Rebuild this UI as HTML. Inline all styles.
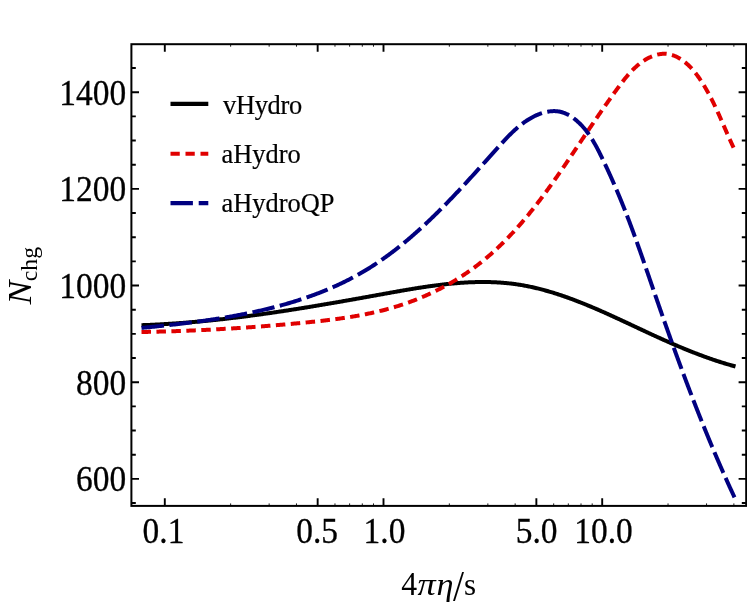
<!DOCTYPE html><html><head><meta charset="utf-8"><style>html,body{margin:0;padding:0;background:#fff}svg{display:block;will-change:transform}text{font-family:"Liberation Serif",serif;fill:#000}.tk{stroke:#000;stroke-width:0.3px}.lg{stroke:#000;stroke-width:0.2px}</style></head><body>
<svg width="747" height="603" viewBox="0 0 747 603">
<rect width="747" height="603" fill="#fff"/>
<g fill="none" stroke-linejoin="round">
<path d="M141.49,325.19 L142.50,325.16 L143.51,325.12 L144.52,325.08 L145.53,325.05 L146.54,325.01 L147.55,324.97 L148.56,324.92 L149.57,324.88 L150.58,324.84 L151.58,324.79 L152.59,324.75 L153.60,324.70 L154.60,324.65 L155.61,324.60 L156.62,324.55 L157.62,324.50 L158.63,324.45 L159.63,324.40 L160.64,324.34 L161.64,324.29 L162.65,324.23 L163.65,324.17 L164.65,324.11 L165.66,324.06 L166.66,324.00 L167.66,323.93 L168.67,323.87 L169.67,323.81 L170.67,323.74 L171.67,323.68 L172.67,323.61 L173.68,323.55 L174.68,323.48 L175.68,323.41 L176.68,323.34 L177.68,323.27 L178.68,323.19 L179.68,323.12 L180.68,323.05 L181.68,322.97 L182.68,322.90 L183.68,322.82 L184.67,322.74 L185.67,322.66 L186.67,322.58 L187.67,322.50 L188.67,322.42 L189.66,322.34 L190.66,322.26 L191.66,322.17 L192.65,322.09 L193.65,322.00 L194.65,321.92 L195.64,321.83 L196.64,321.74 L197.63,321.65 L198.63,321.56 L199.63,321.47 L200.62,321.38 L201.62,321.28 L202.61,321.19 L203.60,321.10 L204.60,321.00 L205.59,320.90 L206.59,320.81 L207.58,320.71 L208.57,320.61 L209.57,320.51 L210.56,320.41 L211.55,320.31 L212.55,320.21 L213.54,320.10 L214.53,320.00 L215.52,319.90 L216.51,319.79 L217.51,319.69 L218.50,319.58 L219.49,319.47 L220.48,319.36 L221.47,319.25 L222.46,319.14 L223.45,319.03 L224.44,318.92 L225.43,318.81 L226.43,318.70 L227.42,318.58 L228.41,318.47 L229.40,318.35 L230.38,318.24 L231.37,318.12 L232.36,318.00 L233.35,317.88 L234.34,317.77 L235.33,317.65 L236.32,317.53 L237.31,317.41 L238.30,317.28 L239.29,317.16 L240.27,317.04 L241.26,316.91 L242.25,316.79 L243.24,316.67 L244.23,316.54 L245.21,316.41 L246.20,316.29 L247.19,316.16 L248.18,316.03 L249.16,315.90 L250.15,315.77 L251.14,315.64 L252.13,315.51 L253.11,315.38 L254.10,315.24 L255.09,315.11 L256.07,314.98 L257.06,314.84 L258.05,314.71 L259.03,314.57 L260.02,314.44 L261.00,314.30 L261.99,314.16 L262.98,314.03 L263.96,313.89 L264.95,313.75 L265.93,313.61 L266.92,313.47 L267.90,313.33 L268.89,313.19 L269.88,313.04 L270.86,312.90 L271.85,312.76 L272.83,312.61 L273.82,312.47 L274.80,312.33 L275.79,312.18 L276.77,312.03 L277.76,311.89 L278.74,311.74 L279.73,311.59 L280.71,311.45 L281.70,311.30 L282.68,311.15 L283.67,311.00 L284.65,310.85 L285.63,310.70 L286.62,310.55 L287.60,310.40 L288.59,310.24 L289.57,310.09 L290.56,309.94 L291.54,309.79 L292.53,309.63 L293.51,309.48 L294.49,309.32 L295.48,309.17 L296.46,309.01 L297.45,308.85 L298.43,308.70 L299.42,308.54 L300.40,308.38 L301.38,308.23 L302.37,308.07 L303.35,307.91 L304.34,307.75 L305.32,307.59 L306.31,307.43 L307.29,307.27 L308.27,307.11 L309.26,306.95 L310.24,306.78 L311.23,306.62 L312.21,306.46 L313.20,306.30 L314.18,306.13 L315.16,305.97 L316.15,305.81 L317.13,305.64 L318.12,305.48 L319.10,305.31 L320.09,305.15 L321.07,304.98 L322.06,304.81 L323.04,304.65 L324.02,304.48 L325.01,304.31 L325.99,304.15 L326.98,303.98 L327.96,303.81 L328.95,303.64 L329.93,303.47 L330.92,303.30 L331.90,303.13 L332.89,302.96 L333.87,302.79 L334.86,302.62 L335.84,302.45 L336.83,302.28 L337.82,302.11 L338.80,301.94 L339.79,301.77 L340.77,301.60 L341.76,301.42 L342.74,301.25 L343.73,301.08 L344.72,300.90 L345.70,300.73 L346.69,300.56 L347.67,300.38 L348.66,300.21 L349.65,300.04 L350.63,299.86 L351.62,299.69 L352.61,299.51 L353.59,299.34 L354.58,299.16 L355.57,298.99 L356.55,298.81 L357.54,298.63 L358.53,298.46 L359.52,298.28 L360.50,298.11 L361.49,297.93 L362.48,297.75 L363.47,297.57 L364.45,297.40 L365.44,297.22 L366.43,297.04 L367.42,296.86 L368.41,296.69 L369.40,296.51 L370.38,296.33 L371.37,296.15 L372.36,295.97 L373.35,295.80 L374.34,295.62 L375.33,295.44 L376.32,295.26 L377.31,295.08 L378.30,294.90 L379.29,294.72 L380.28,294.54 L381.27,294.36 L382.26,294.18 L383.25,294.00 L384.24,293.82 L385.23,293.64 L386.22,293.47 L387.21,293.29 L388.21,293.11 L389.20,292.93 L390.19,292.75 L391.18,292.57 L392.17,292.39 L393.16,292.22 L394.16,292.04 L395.15,291.86 L396.14,291.68 L397.13,291.51 L398.13,291.33 L399.12,291.16 L400.11,290.98 L401.10,290.81 L402.10,290.64 L403.09,290.46 L404.08,290.29 L405.08,290.12 L406.07,289.95 L407.06,289.78 L408.05,289.61 L409.05,289.45 L410.04,289.28 L411.03,289.11 L412.03,288.95 L413.02,288.78 L414.02,288.62 L415.01,288.46 L416.00,288.30 L417.00,288.14 L417.99,287.98 L418.98,287.83 L419.98,287.67 L420.97,287.52 L421.97,287.36 L422.96,287.21 L423.95,287.06 L424.95,286.91 L425.94,286.77 L426.93,286.62 L427.93,286.48 L428.92,286.34 L429.92,286.20 L430.91,286.06 L431.90,285.92 L432.90,285.78 L433.89,285.65 L434.89,285.52 L435.88,285.39 L436.87,285.26 L437.87,285.13 L438.86,285.01 L439.86,284.89 L440.85,284.77 L441.84,284.65 L442.84,284.53 L443.83,284.42 L444.82,284.31 L445.82,284.20 L446.81,284.09 L447.80,283.98 L448.80,283.88 L449.79,283.78 L450.78,283.68 L451.78,283.59 L452.77,283.49 L453.76,283.40 L454.75,283.32 L455.75,283.23 L456.74,283.15 L457.73,283.07 L458.73,282.99 L459.72,282.91 L460.71,282.84 L461.70,282.77 L462.69,282.70 L463.69,282.64 L464.68,282.58 L465.67,282.52 L466.66,282.47 L467.65,282.41 L468.64,282.36 L469.64,282.32 L470.63,282.27 L471.62,282.23 L472.61,282.20 L473.60,282.16 L474.59,282.13 L475.58,282.11 L476.57,282.08 L477.56,282.06 L478.55,282.04 L479.54,282.03 L480.53,282.02 L481.52,282.01 L482.51,282.01 L483.50,282.01 L484.49,282.01 L485.48,282.02 L486.46,282.03 L487.45,282.05 L488.44,282.06 L489.43,282.09 L490.42,282.11 L491.40,282.14 L492.39,282.18 L493.38,282.21 L494.37,282.25 L495.35,282.30 L496.34,282.35 L497.32,282.40 L498.31,282.46 L499.30,282.52 L500.28,282.59 L501.27,282.66 L502.25,282.73 L503.24,282.81 L504.22,282.89 L505.21,282.98 L506.19,283.07 L507.18,283.17 L508.16,283.27 L509.14,283.37 L510.13,283.48 L511.11,283.59 L512.09,283.71 L513.07,283.83 L514.06,283.96 L515.04,284.09 L516.02,284.23 L517.00,284.37 L517.98,284.52 L518.96,284.67 L519.94,284.82 L520.92,284.98 L521.90,285.15 L522.88,285.32 L523.86,285.50 L524.84,285.68 L525.82,285.86 L526.80,286.05 L527.78,286.24 L528.75,286.44 L529.73,286.64 L530.71,286.85 L531.68,287.06 L532.66,287.28 L533.63,287.50 L534.61,287.72 L535.58,287.95 L536.56,288.18 L537.53,288.42 L538.50,288.66 L539.48,288.90 L540.45,289.15 L541.42,289.40 L542.39,289.66 L543.36,289.92 L544.33,290.18 L545.30,290.45 L546.27,290.72 L547.24,290.99 L548.21,291.27 L549.17,291.55 L550.14,291.84 L551.10,292.13 L552.07,292.42 L553.03,292.71 L554.00,293.01 L554.96,293.31 L555.92,293.62 L556.89,293.92 L557.85,294.24 L558.81,294.55 L559.77,294.87 L560.72,295.19 L561.68,295.51 L562.64,295.83 L563.60,296.16 L564.55,296.49 L565.51,296.83 L566.46,297.17 L567.42,297.50 L568.37,297.85 L569.32,298.19 L570.27,298.54 L571.22,298.89 L572.17,299.24 L573.12,299.59 L574.06,299.95 L575.01,300.31 L575.96,300.67 L576.90,301.03 L577.85,301.40 L578.79,301.76 L579.73,302.13 L580.67,302.50 L581.61,302.88 L582.55,303.25 L583.49,303.63 L584.42,304.01 L585.36,304.39 L586.29,304.77 L587.23,305.15 L588.16,305.54 L589.09,305.92 L590.02,306.31 L590.95,306.70 L591.88,307.09 L592.81,307.48 L593.73,307.88 L594.66,308.27 L595.58,308.67 L596.51,309.07 L597.43,309.46 L598.35,309.86 L599.27,310.26 L600.19,310.67 L601.11,311.07 L602.02,311.47 L602.94,311.88 L603.85,312.28 L604.77,312.69 L605.68,313.10 L606.59,313.51 L607.51,313.92 L608.42,314.33 L609.33,314.74 L610.24,315.15 L611.15,315.56 L612.05,315.98 L612.96,316.39 L613.87,316.81 L614.78,317.22 L615.68,317.64 L616.59,318.06 L617.49,318.47 L618.40,318.89 L619.30,319.31 L620.20,319.73 L621.11,320.15 L622.01,320.57 L622.91,320.99 L623.82,321.41 L624.72,321.83 L625.62,322.25 L626.52,322.67 L627.42,323.09 L628.32,323.51 L629.22,323.93 L630.12,324.36 L631.02,324.78 L631.92,325.20 L632.82,325.62 L633.72,326.05 L634.62,326.47 L635.52,326.89 L636.42,327.31 L637.32,327.74 L638.22,328.16 L639.12,328.58 L640.02,329.00 L640.92,329.42 L641.82,329.85 L642.72,330.27 L643.63,330.69 L644.53,331.11 L645.43,331.53 L646.33,331.95 L647.23,332.37 L648.13,332.79 L649.04,333.21 L649.94,333.63 L650.84,334.04 L651.75,334.46 L652.65,334.88 L653.56,335.30 L654.46,335.71 L655.37,336.13 L656.27,336.54 L657.18,336.95 L658.09,337.37 L659.00,337.78 L659.90,338.19 L660.81,338.60 L661.72,339.01 L662.63,339.42 L663.54,339.83 L664.46,340.24 L665.37,340.64 L666.28,341.05 L667.19,341.45 L668.11,341.86 L669.02,342.26 L669.94,342.66 L670.85,343.06 L671.77,343.46 L672.68,343.86 L673.60,344.25 L674.52,344.65 L675.44,345.04 L676.36,345.44 L677.28,345.83 L678.20,346.22 L679.12,346.61 L680.04,347.00 L680.96,347.38 L681.89,347.77 L682.81,348.15 L683.73,348.54 L684.66,348.92 L685.59,349.30 L686.51,349.67 L687.44,350.05 L688.37,350.42 L689.30,350.80 L690.22,351.17 L691.15,351.54 L692.09,351.91 L693.02,352.27 L693.95,352.64 L694.88,353.00 L695.81,353.36 L696.75,353.72 L697.68,354.08 L698.62,354.43 L699.56,354.79 L700.49,355.14 L701.43,355.49 L702.37,355.84 L703.31,356.18 L704.25,356.53 L705.19,356.87 L706.13,357.21 L707.07,357.54 L708.02,357.88 L708.96,358.21 L709.90,358.54 L710.85,358.87 L711.80,359.20 L712.74,359.52 L713.69,359.85 L714.64,360.16 L715.59,360.48 L716.54,360.80 L717.49,361.11 L718.44,361.42 L719.39,361.73 L720.35,362.03 L721.30,362.33 L722.26,362.63 L723.21,362.93 L724.17,363.23 L725.13,363.52 L726.09,363.81 L727.05,364.10 L728.01,364.38 L728.97,364.66 L729.93,364.94 L730.89,365.22 L731.85,365.49 L732.82,365.76 L733.78,366.03 L734.75,366.29 L735.50,366.50" stroke="#000" stroke-width="4"/>
<path d="M141.50,332.00 L142.50,331.98 L143.51,331.96 L144.51,331.94 L145.52,331.92 L146.52,331.90 L147.53,331.88 L148.53,331.86 L149.54,331.84 L150.54,331.82 L151.54,331.80 L152.55,331.78 L153.55,331.75 L154.55,331.73 L155.56,331.71 L156.56,331.68 L157.56,331.66 L158.56,331.63 L159.57,331.61 L160.57,331.58 L161.57,331.55 L162.57,331.53 L163.57,331.50 L164.57,331.47 L165.58,331.44 L166.58,331.41 L167.58,331.38 L168.58,331.35 L169.58,331.32 L170.58,331.29 L171.58,331.26 L172.58,331.23 L173.58,331.19 L174.58,331.16 L175.58,331.13 L176.58,331.09 L177.58,331.06 L178.58,331.02 L179.58,330.99 L180.58,330.95 L181.58,330.91 L182.58,330.88 L183.58,330.84 L184.58,330.80 L185.58,330.76 L186.58,330.72 L187.57,330.68 L188.57,330.64 L189.57,330.60 L190.57,330.56 L191.57,330.52 L192.57,330.48 L193.56,330.44 L194.56,330.39 L195.56,330.35 L196.56,330.31 L197.56,330.26 L198.55,330.22 L199.55,330.17 L200.55,330.12 L201.55,330.08 L202.54,330.03 L203.54,329.98 L204.54,329.94 L205.53,329.89 L206.53,329.84 L207.53,329.79 L208.52,329.74 L209.52,329.69 L210.52,329.64 L211.51,329.59 L212.51,329.53 L213.51,329.48 L214.50,329.43 L215.50,329.38 L216.50,329.32 L217.49,329.27 L218.49,329.21 L219.49,329.16 L220.48,329.10 L221.48,329.04 L222.47,328.99 L223.47,328.93 L224.47,328.87 L225.46,328.81 L226.46,328.76 L227.45,328.70 L228.45,328.64 L229.44,328.58 L230.44,328.52 L231.44,328.45 L232.43,328.39 L233.43,328.33 L234.42,328.27 L235.42,328.20 L236.41,328.14 L237.41,328.08 L238.41,328.01 L239.40,327.95 L240.40,327.88 L241.39,327.81 L242.39,327.75 L243.38,327.68 L244.38,327.61 L245.37,327.55 L246.37,327.48 L247.36,327.41 L248.36,327.34 L249.36,327.27 L250.35,327.20 L251.35,327.13 L252.34,327.05 L253.34,326.98 L254.33,326.91 L255.33,326.84 L256.32,326.76 L257.32,326.69 L258.31,326.62 L259.31,326.54 L260.31,326.47 L261.30,326.39 L262.30,326.31 L263.29,326.24 L264.29,326.16 L265.28,326.08 L266.28,326.00 L267.27,325.92 L268.27,325.84 L269.27,325.76 L270.26,325.68 L271.26,325.60 L272.25,325.52 L273.25,325.44 L274.25,325.36 L275.24,325.28 L276.24,325.19 L277.23,325.11 L278.23,325.02 L279.23,324.94 L280.22,324.85 L281.22,324.77 L282.22,324.68 L283.21,324.60 L284.21,324.51 L285.20,324.42 L286.20,324.33 L287.20,324.24 L288.19,324.16 L289.19,324.07 L290.19,323.98 L291.19,323.89 L292.18,323.79 L293.18,323.70 L294.18,323.61 L295.17,323.52 L296.17,323.43 L297.17,323.33 L298.17,323.24 L299.16,323.14 L300.16,323.05 L301.16,322.95 L302.16,322.86 L303.16,322.76 L304.15,322.66 L305.15,322.57 L306.15,322.47 L307.15,322.37 L308.15,322.27 L309.14,322.17 L310.14,322.07 L311.14,321.96 L312.14,321.86 L313.14,321.76 L314.13,321.65 L315.13,321.55 L316.13,321.44 L317.13,321.33 L318.12,321.23 L319.12,321.12 L320.12,321.00 L321.12,320.89 L322.11,320.78 L323.11,320.67 L324.11,320.55 L325.10,320.43 L326.10,320.32 L327.10,320.20 L328.09,320.08 L329.09,319.95 L330.09,319.83 L331.08,319.71 L332.08,319.58 L333.07,319.45 L334.07,319.32 L335.06,319.19 L336.05,319.06 L337.05,318.92 L338.04,318.79 L339.03,318.65 L340.03,318.51 L341.02,318.37 L342.01,318.23 L343.00,318.08 L344.00,317.94 L344.99,317.79 L345.98,317.64 L346.97,317.49 L347.96,317.33 L348.95,317.18 L349.94,317.02 L350.92,316.86 L351.91,316.70 L352.90,316.53 L353.89,316.36 L354.87,316.20 L355.86,316.02 L356.85,315.85 L357.83,315.68 L358.82,315.50 L359.80,315.32 L360.78,315.13 L361.77,314.95 L362.75,314.76 L363.73,314.57 L364.71,314.38 L365.69,314.18 L366.67,313.99 L367.65,313.79 L368.63,313.58 L369.61,313.38 L370.59,313.17 L371.56,312.96 L372.54,312.75 L373.51,312.53 L374.49,312.31 L375.46,312.09 L376.44,311.86 L377.41,311.63 L378.38,311.40 L379.35,311.17 L380.32,310.93 L381.29,310.69 L382.26,310.45 L383.23,310.20 L384.20,309.95 L385.16,309.70 L386.13,309.45 L387.09,309.19 L388.06,308.93 L389.02,308.66 L389.98,308.39 L390.94,308.12 L391.90,307.84 L392.86,307.57 L393.82,307.28 L394.78,307.00 L395.74,306.71 L396.69,306.41 L397.65,306.12 L398.60,305.82 L399.55,305.51 L400.51,305.21 L401.46,304.90 L402.41,304.58 L403.35,304.26 L404.30,303.94 L405.25,303.62 L406.19,303.29 L407.14,302.96 L408.08,302.62 L409.02,302.28 L409.96,301.94 L410.90,301.59 L411.84,301.24 L412.78,300.89 L413.72,300.53 L414.65,300.17 L415.58,299.80 L416.52,299.44 L417.45,299.06 L418.38,298.69 L419.30,298.31 L420.23,297.93 L421.15,297.54 L422.08,297.16 L423.00,296.76 L423.92,296.37 L424.84,295.97 L425.76,295.57 L426.67,295.16 L427.59,294.75 L428.50,294.34 L429.41,293.92 L430.32,293.50 L431.23,293.08 L432.14,292.65 L433.04,292.22 L433.95,291.79 L434.85,291.35 L435.75,290.91 L436.64,290.46 L437.54,290.02 L438.43,289.57 L439.33,289.11 L440.22,288.65 L441.11,288.19 L441.99,287.73 L442.88,287.26 L443.76,286.79 L444.64,286.31 L445.52,285.84 L446.40,285.36 L447.28,284.87 L448.15,284.38 L449.02,283.89 L449.89,283.40 L450.76,282.90 L451.62,282.40 L452.49,281.89 L453.35,281.39 L454.21,280.87 L455.07,280.36 L455.92,279.84 L456.77,279.32 L457.62,278.80 L458.47,278.27 L459.32,277.74 L460.16,277.20 L461.00,276.67 L461.84,276.13 L462.68,275.58 L463.51,275.03 L464.34,274.48 L465.17,273.93 L466.00,273.37 L466.83,272.81 L467.65,272.25 L468.47,271.68 L469.29,271.11 L470.10,270.54 L470.91,269.96 L471.72,269.38 L472.53,268.80 L473.34,268.21 L474.14,267.62 L474.94,267.03 L475.74,266.44 L476.53,265.84 L477.32,265.24 L478.11,264.63 L478.90,264.02 L479.68,263.41 L480.46,262.80 L481.24,262.18 L482.02,261.56 L482.79,260.93 L483.56,260.31 L484.33,259.68 L485.09,259.05 L485.86,258.41 L486.62,257.77 L487.38,257.13 L488.13,256.49 L488.88,255.84 L489.64,255.19 L490.38,254.54 L491.13,253.88 L491.87,253.22 L492.61,252.56 L493.35,251.90 L494.09,251.23 L494.82,250.56 L495.55,249.89 L496.28,249.21 L497.01,248.54 L497.73,247.86 L498.45,247.17 L499.17,246.49 L499.89,245.80 L500.61,245.11 L501.32,244.42 L502.03,243.72 L502.74,243.03 L503.45,242.33 L504.15,241.62 L504.85,240.92 L505.55,240.21 L506.25,239.50 L506.95,238.79 L507.64,238.08 L508.33,237.36 L509.02,236.64 L509.71,235.92 L510.40,235.20 L511.08,234.47 L511.76,233.74 L512.44,233.01 L513.12,232.28 L513.79,231.55 L514.47,230.81 L515.14,230.08 L515.81,229.34 L516.48,228.59 L517.14,227.85 L517.81,227.10 L518.47,226.36 L519.13,225.61 L519.79,224.85 L520.45,224.10 L521.10,223.35 L521.76,222.59 L522.41,221.83 L523.06,221.07 L523.71,220.31 L524.35,219.54 L525.00,218.78 L525.64,218.01 L526.28,217.24 L526.92,216.47 L527.56,215.70 L528.20,214.92 L528.83,214.15 L529.47,213.37 L530.10,212.59 L530.73,211.81 L531.36,211.03 L531.99,210.24 L532.61,209.46 L533.24,208.67 L533.86,207.88 L534.48,207.10 L535.10,206.31 L535.72,205.51 L536.34,204.72 L536.95,203.93 L537.57,203.13 L538.18,202.33 L538.79,201.54 L539.40,200.74 L540.01,199.94 L540.62,199.13 L541.23,198.33 L541.83,197.53 L542.43,196.72 L543.04,195.91 L543.64,195.11 L544.24,194.30 L544.84,193.49 L545.44,192.68 L546.03,191.87 L546.63,191.06 L547.22,190.24 L547.82,189.43 L548.41,188.61 L549.00,187.80 L549.59,186.98 L550.18,186.16 L550.77,185.35 L551.35,184.53 L551.94,183.71 L552.52,182.89 L553.11,182.07 L553.69,181.24 L554.27,180.42 L554.85,179.60 L555.43,178.77 L556.01,177.95 L556.59,177.12 L557.17,176.30 L557.75,175.47 L558.32,174.65 L558.90,173.82 L559.47,172.99 L560.04,172.16 L560.62,171.34 L561.19,170.51 L561.76,169.68 L562.33,168.85 L562.90,168.02 L563.47,167.19 L564.04,166.36 L564.60,165.53 L565.17,164.70 L565.74,163.87 L566.30,163.03 L566.87,162.20 L567.43,161.37 L567.99,160.54 L568.56,159.71 L569.12,158.88 L569.68,158.04 L570.24,157.21 L570.80,156.38 L571.37,155.55 L571.93,154.72 L572.48,153.88 L573.04,153.05 L573.60,152.22 L574.16,151.39 L574.72,150.56 L575.28,149.73 L575.83,148.89 L576.39,148.06 L576.95,147.23 L577.50,146.40 L578.06,145.57 L578.61,144.74 L579.17,143.91 L579.72,143.08 L580.28,142.25 L580.83,141.43 L581.39,140.60 L581.94,139.77 L582.50,138.94 L583.05,138.12 L583.60,137.29 L584.16,136.46 L584.71,135.64 L585.26,134.81 L585.82,133.99 L586.37,133.17 L586.92,132.34 L587.48,131.52 L588.03,130.70 L588.58,129.88 L589.13,129.06 L589.69,128.24 L590.24,127.42 L590.79,126.60 L591.35,125.78 L591.90,124.97 L592.45,124.15 L593.01,123.34 L593.56,122.52 L594.11,121.71 L594.67,120.89 L595.22,120.08 L595.78,119.27 L596.33,118.46 L596.89,117.64 L597.45,116.83 L598.00,116.02 L598.56,115.21 L599.12,114.40 L599.68,113.59 L600.24,112.78 L600.80,111.97 L601.36,111.16 L601.92,110.35 L602.49,109.54 L603.05,108.73 L603.62,107.92 L604.18,107.11 L604.75,106.30 L605.32,105.49 L605.89,104.67 L606.46,103.86 L607.03,103.05 L607.60,102.24 L608.18,101.43 L608.75,100.61 L609.33,99.80 L609.91,98.99 L610.49,98.17 L611.07,97.36 L611.66,96.54 L612.24,95.73 L612.83,94.91 L613.42,94.09 L614.01,93.27 L614.60,92.45 L615.19,91.63 L615.79,90.81 L616.38,89.99 L616.98,89.17 L617.58,88.34 L618.19,87.52 L618.79,86.70 L619.40,85.87 L620.02,85.05 L620.63,84.23 L621.25,83.41 L621.87,82.60 L622.50,81.78 L623.13,80.97 L623.76,80.16 L624.40,79.36 L625.04,78.56 L625.69,77.77 L626.34,76.98 L627.00,76.19 L627.66,75.42 L628.33,74.64 L629.00,73.88 L629.68,73.12 L630.37,72.37 L631.06,71.63 L631.76,70.89 L632.46,70.17 L633.18,69.45 L633.90,68.74 L634.62,68.04 L635.36,67.36 L636.10,66.68 L636.85,66.02 L637.61,65.36 L638.37,64.72 L639.15,64.09 L639.93,63.47 L640.72,62.87 L641.53,62.28 L642.34,61.70 L643.16,61.14 L643.99,60.60 L644.83,60.06 L645.68,59.55 L646.54,59.05 L647.41,58.56 L648.29,58.10 L649.18,57.65 L650.09,57.22 L651.00,56.80 L651.92,56.41 L652.85,56.04 L653.78,55.70 L654.72,55.38 L655.67,55.08 L656.62,54.81 L657.58,54.57 L658.54,54.36 L659.51,54.17 L660.47,54.02 L661.44,53.90 L662.41,53.81 L663.38,53.76 L664.35,53.75 L665.32,53.77 L666.28,53.82 L667.25,53.92 L668.21,54.06 L669.16,54.23 L670.11,54.44 L671.06,54.69 L672.00,54.97 L672.94,55.28 L673.87,55.62 L674.79,55.99 L675.70,56.39 L676.60,56.81 L677.49,57.26 L678.37,57.73 L679.24,58.23 L680.10,58.75 L680.95,59.28 L681.79,59.83 L682.61,60.40 L683.42,60.99 L684.21,61.59 L685.00,62.21 L685.77,62.84 L686.53,63.48 L687.28,64.15 L688.01,64.82 L688.74,65.51 L689.45,66.21 L690.16,66.92 L690.85,67.64 L691.54,68.38 L692.21,69.12 L692.87,69.88 L693.53,70.64 L694.18,71.41 L694.81,72.20 L695.44,72.99 L696.06,73.78 L696.67,74.59 L697.27,75.40 L697.87,76.22 L698.46,77.04 L699.04,77.87 L699.61,78.70 L700.18,79.54 L700.74,80.38 L701.29,81.22 L701.84,82.07 L702.38,82.91 L702.92,83.76 L703.45,84.62 L703.97,85.47 L704.49,86.33 L705.00,87.19 L705.51,88.05 L706.01,88.91 L706.51,89.78 L707.00,90.64 L707.49,91.51 L707.97,92.38 L708.45,93.26 L708.93,94.13 L709.40,95.01 L709.86,95.88 L710.33,96.76 L710.78,97.65 L711.24,98.53 L711.69,99.41 L712.14,100.30 L712.58,101.19 L713.02,102.08 L713.46,102.97 L713.89,103.86 L714.32,104.75 L714.75,105.65 L715.18,106.54 L715.60,107.44 L716.02,108.34 L716.44,109.24 L716.86,110.14 L717.27,111.04 L717.68,111.94 L718.09,112.85 L718.50,113.75 L718.91,114.66 L719.31,115.56 L719.72,116.47 L720.12,117.38 L720.52,118.29 L720.92,119.20 L721.32,120.11 L721.72,121.02 L722.12,121.93 L722.52,122.85 L722.92,123.76 L723.32,124.67 L723.72,125.59 L724.11,126.50 L724.51,127.42 L724.91,128.33 L725.31,129.25 L725.71,130.16 L726.11,131.08 L726.51,131.99 L726.91,132.91 L727.31,133.83 L727.72,134.74 L728.12,135.66 L728.53,136.58 L728.94,137.49 L729.34,138.41 L729.76,139.33 L730.17,140.24 L730.58,141.16 L731.00,142.07 L731.42,142.99 L731.84,143.91 L732.27,144.82 L732.69,145.74 L733.12,146.65 L733.56,147.56 L733.81,148.10" stroke="#e00000" stroke-width="4" stroke-dasharray="9.5 5.45"/>
<path d="M141.51,327.91 L142.48,327.81 L143.46,327.72 L144.43,327.62 L145.40,327.53 L146.38,327.43 L147.35,327.33 L148.33,327.24 L149.31,327.14 L150.29,327.04 L151.26,326.94 L152.24,326.84 L153.22,326.74 L154.20,326.64 L155.18,326.54 L156.17,326.44 L157.15,326.34 L158.13,326.24 L159.11,326.13 L160.10,326.03 L161.08,325.93 L162.07,325.82 L163.05,325.72 L164.04,325.61 L165.02,325.51 L166.01,325.40 L167.00,325.29 L167.98,325.18 L168.97,325.07 L169.96,324.97 L170.95,324.86 L171.94,324.74 L172.93,324.63 L173.92,324.52 L174.91,324.41 L175.90,324.29 L176.89,324.18 L177.88,324.06 L178.87,323.95 L179.87,323.83 L180.86,323.71 L181.85,323.60 L182.84,323.48 L183.84,323.36 L184.83,323.24 L185.82,323.11 L186.82,322.99 L187.81,322.87 L188.81,322.74 L189.80,322.62 L190.80,322.49 L191.79,322.37 L192.79,322.24 L193.78,322.11 L194.78,321.98 L195.77,321.85 L196.77,321.71 L197.77,321.58 L198.76,321.45 L199.76,321.31 L200.75,321.18 L201.75,321.04 L202.75,320.90 L203.74,320.76 L204.74,320.62 L205.74,320.48 L206.73,320.33 L207.73,320.19 L208.73,320.05 L209.72,319.90 L210.72,319.75 L211.72,319.60 L212.72,319.45 L213.71,319.30 L214.71,319.15 L215.71,318.99 L216.70,318.84 L217.70,318.68 L218.69,318.53 L219.69,318.37 L220.69,318.21 L221.68,318.05 L222.68,317.88 L223.67,317.72 L224.67,317.55 L225.67,317.39 L226.66,317.22 L227.66,317.05 L228.65,316.88 L229.64,316.70 L230.64,316.53 L231.63,316.35 L232.63,316.18 L233.62,316.00 L234.61,315.82 L235.61,315.64 L236.60,315.46 L237.59,315.27 L238.58,315.08 L239.58,314.90 L240.57,314.71 L241.56,314.52 L242.55,314.33 L243.54,314.13 L244.53,313.94 L245.52,313.74 L246.51,313.54 L247.50,313.34 L248.49,313.14 L249.48,312.93 L250.46,312.73 L251.45,312.52 L252.44,312.31 L253.42,312.10 L254.41,311.89 L255.39,311.67 L256.38,311.46 L257.36,311.24 L258.35,311.02 L259.33,310.80 L260.31,310.58 L261.29,310.35 L262.28,310.13 L263.26,309.90 L264.24,309.67 L265.22,309.43 L266.20,309.20 L267.18,308.96 L268.15,308.73 L269.13,308.49 L270.11,308.24 L271.08,308.00 L272.06,307.75 L273.03,307.51 L274.01,307.26 L274.98,307.00 L275.95,306.75 L276.92,306.49 L277.90,306.24 L278.87,305.98 L279.84,305.71 L280.80,305.45 L281.77,305.18 L282.74,304.92 L283.71,304.65 L284.67,304.37 L285.64,304.10 L286.60,303.82 L287.56,303.54 L288.53,303.26 L289.49,302.98 L290.45,302.69 L291.41,302.40 L292.37,302.11 L293.32,301.82 L294.28,301.53 L295.24,301.23 L296.19,300.93 L297.15,300.63 L298.10,300.32 L299.05,300.02 L300.00,299.71 L300.95,299.40 L301.90,299.09 L302.85,298.77 L303.80,298.45 L304.74,298.13 L305.69,297.81 L306.63,297.48 L307.58,297.16 L308.52,296.83 L309.46,296.49 L310.40,296.16 L311.34,295.82 L312.27,295.48 L313.21,295.14 L314.15,294.79 L315.08,294.44 L316.01,294.09 L316.94,293.74 L317.87,293.39 L318.80,293.03 L319.73,292.67 L320.66,292.31 L321.58,291.94 L322.51,291.57 L323.43,291.20 L324.35,290.83 L325.27,290.45 L326.19,290.07 L327.11,289.69 L328.03,289.30 L328.94,288.92 L329.86,288.53 L330.77,288.13 L331.68,287.74 L332.59,287.34 L333.50,286.94 L334.41,286.54 L335.31,286.13 L336.22,285.72 L337.12,285.31 L338.02,284.89 L338.92,284.47 L339.82,284.05 L340.72,283.63 L341.62,283.20 L342.51,282.77 L343.40,282.34 L344.29,281.90 L345.18,281.47 L346.07,281.02 L346.96,280.58 L347.84,280.13 L348.73,279.68 L349.61,279.23 L350.49,278.77 L351.37,278.31 L352.25,277.85 L353.12,277.38 L354.00,276.92 L354.87,276.44 L355.74,275.97 L356.61,275.49 L357.48,275.01 L358.35,274.52 L359.21,274.04 L360.07,273.55 L360.93,273.05 L361.79,272.56 L362.65,272.05 L363.51,271.55 L364.36,271.04 L365.21,270.53 L366.06,270.02 L366.91,269.51 L367.76,268.99 L368.60,268.46 L369.45,267.94 L370.29,267.41 L371.13,266.88 L371.97,266.34 L372.81,265.80 L373.64,265.26 L374.48,264.72 L375.31,264.17 L376.14,263.62 L376.97,263.07 L377.79,262.51 L378.62,261.96 L379.44,261.39 L380.26,260.83 L381.08,260.26 L381.90,259.69 L382.72,259.12 L383.53,258.55 L384.35,257.97 L385.16,257.39 L385.97,256.81 L386.78,256.22 L387.59,255.63 L388.39,255.04 L389.20,254.45 L390.00,253.85 L390.80,253.26 L391.60,252.66 L392.40,252.05 L393.20,251.45 L393.99,250.84 L394.78,250.23 L395.58,249.62 L396.37,249.00 L397.16,248.38 L397.94,247.76 L398.73,247.14 L399.51,246.52 L400.30,245.89 L401.08,245.27 L401.86,244.63 L402.64,244.00 L403.41,243.37 L404.19,242.73 L404.96,242.09 L405.73,241.45 L406.51,240.81 L407.27,240.16 L408.04,239.52 L408.81,238.87 L409.57,238.22 L410.34,237.57 L411.10,236.91 L411.86,236.25 L412.62,235.60 L413.38,234.94 L414.14,234.28 L414.89,233.61 L415.65,232.95 L416.40,232.28 L417.15,231.61 L417.90,230.94 L418.65,230.27 L419.40,229.60 L420.14,228.92 L420.89,228.25 L421.63,227.57 L422.37,226.89 L423.11,226.21 L423.85,225.53 L424.59,224.84 L425.33,224.16 L426.06,223.47 L426.79,222.78 L427.53,222.09 L428.26,221.40 L428.99,220.71 L429.72,220.02 L430.45,219.32 L431.17,218.63 L431.90,217.93 L432.62,217.23 L433.34,216.53 L434.06,215.83 L434.78,215.13 L435.50,214.43 L436.22,213.73 L436.94,213.02 L437.65,212.32 L438.37,211.61 L439.08,210.90 L439.79,210.19 L440.50,209.48 L441.21,208.77 L441.92,208.06 L442.63,207.35 L443.33,206.64 L444.04,205.92 L444.74,205.21 L445.44,204.50 L446.14,203.78 L446.84,203.06 L447.54,202.35 L448.24,201.63 L448.93,200.91 L449.63,200.19 L450.32,199.47 L451.02,198.75 L451.71,198.03 L452.40,197.31 L453.09,196.59 L453.78,195.87 L454.47,195.14 L455.15,194.42 L455.84,193.70 L456.52,192.97 L457.21,192.25 L457.89,191.53 L458.57,190.80 L459.25,190.08 L459.93,189.35 L460.61,188.63 L461.29,187.90 L461.96,187.18 L462.64,186.45 L463.31,185.72 L463.99,185.00 L464.66,184.27 L465.33,183.54 L466.00,182.82 L466.68,182.09 L467.35,181.36 L468.01,180.63 L468.68,179.90 L469.35,179.18 L470.02,178.45 L470.69,177.72 L471.35,176.99 L472.02,176.26 L472.69,175.53 L473.35,174.79 L474.02,174.06 L474.68,173.33 L475.35,172.60 L476.01,171.87 L476.68,171.13 L477.34,170.40 L478.00,169.66 L478.67,168.93 L479.33,168.19 L480.00,167.46 L480.66,166.72 L481.33,165.99 L481.99,165.25 L482.65,164.51 L483.32,163.77 L483.98,163.03 L484.65,162.30 L485.31,161.56 L485.98,160.82 L486.65,160.07 L487.31,159.33 L487.98,158.59 L488.65,157.85 L489.31,157.10 L489.98,156.36 L490.65,155.62 L491.32,154.87 L491.99,154.12 L492.66,153.38 L493.33,152.63 L494.01,151.88 L494.68,151.13 L495.35,150.38 L496.03,149.63 L496.70,148.88 L497.38,148.13 L498.06,147.38 L498.74,146.63 L499.42,145.87 L500.10,145.12 L500.78,144.37 L501.47,143.62 L502.15,142.86 L502.84,142.11 L503.53,141.37 L504.22,140.62 L504.92,139.88 L505.62,139.13 L506.32,138.39 L507.02,137.66 L507.73,136.92 L508.44,136.19 L509.15,135.47 L509.87,134.75 L510.59,134.03 L511.31,133.32 L512.04,132.61 L512.78,131.91 L513.51,131.21 L514.26,130.52 L515.00,129.84 L515.75,129.16 L516.51,128.49 L517.27,127.83 L518.04,127.17 L518.81,126.52 L519.59,125.88 L520.37,125.25 L521.16,124.62 L521.96,124.01 L522.76,123.40 L523.57,122.81 L524.38,122.22 L525.20,121.64 L526.03,121.08 L526.86,120.52 L527.71,119.97 L528.56,119.44 L529.41,118.92 L530.28,118.41 L531.15,117.91 L532.03,117.42 L532.92,116.95 L533.82,116.49 L534.72,116.04 L535.63,115.61 L536.55,115.20 L537.47,114.80 L538.39,114.41 L539.33,114.05 L540.26,113.70 L541.21,113.37 L542.15,113.06 L543.10,112.77 L544.05,112.50 L545.00,112.26 L545.96,112.03 L546.91,111.83 L547.87,111.65 L548.83,111.50 L549.79,111.37 L550.74,111.26 L551.70,111.18 L552.65,111.13 L553.61,111.11 L554.56,111.11 L555.51,111.15 L556.45,111.21 L557.40,111.30 L558.33,111.42 L559.27,111.58 L560.20,111.77 L561.12,111.99 L562.04,112.24 L562.95,112.53 L563.85,112.84 L564.75,113.18 L565.65,113.56 L566.53,113.96 L567.41,114.38 L568.28,114.84 L569.14,115.31 L570.00,115.81 L570.84,116.34 L571.68,116.88 L572.51,117.45 L573.33,118.03 L574.14,118.64 L574.94,119.26 L575.73,119.90 L576.51,120.55 L577.28,121.22 L578.04,121.90 L578.79,122.60 L579.53,123.31 L580.25,124.03 L580.97,124.75 L581.67,125.49 L582.36,126.24 L583.03,126.99 L583.70,127.75 L584.36,128.52 L585.00,129.30 L585.64,130.09 L586.26,130.88 L586.87,131.68 L587.48,132.49 L588.07,133.30 L588.66,134.12 L589.24,134.95 L589.81,135.78 L590.37,136.62 L590.92,137.46 L591.46,138.31 L592.00,139.17 L592.53,140.02 L593.05,140.89 L593.57,141.75 L594.08,142.63 L594.58,143.50 L595.08,144.38 L595.57,145.27 L596.06,146.15 L596.54,147.04 L597.01,147.93 L597.49,148.83 L597.95,149.72 L598.42,150.62 L598.88,151.52 L599.33,152.43 L599.78,153.33 L600.23,154.24 L600.68,155.14 L601.13,156.05 L601.57,156.96 L602.01,157.87 L602.45,158.78 L602.89,159.68 L603.32,160.59 L603.76,161.50 L604.19,162.41 L604.62,163.32 L605.05,164.23 L605.48,165.14 L605.90,166.04 L606.33,166.95 L606.75,167.86 L607.18,168.77 L607.60,169.68 L608.02,170.59 L608.44,171.50 L608.85,172.41 L609.27,173.32 L609.68,174.23 L610.09,175.14 L610.50,176.05 L610.91,176.96 L611.32,177.87 L611.73,178.79 L612.14,179.70 L612.54,180.61 L612.94,181.52 L613.34,182.43 L613.74,183.35 L614.14,184.26 L614.54,185.17 L614.94,186.09 L615.33,187.00 L615.73,187.91 L616.12,188.83 L616.51,189.74 L616.90,190.66 L617.29,191.58 L617.68,192.49 L618.06,193.41 L618.45,194.33 L618.83,195.24 L619.22,196.16 L619.60,197.08 L619.98,198.00 L620.36,198.92 L620.73,199.84 L621.11,200.76 L621.49,201.68 L621.86,202.60 L622.23,203.52 L622.61,204.44 L622.98,205.37 L623.35,206.29 L623.72,207.21 L624.08,208.14 L624.45,209.06 L624.82,209.99 L625.18,210.91 L625.55,211.84 L625.91,212.77 L626.27,213.69 L626.63,214.62 L626.99,215.55 L627.35,216.48 L627.71,217.41 L628.06,218.34 L628.42,219.27 L628.77,220.20 L629.13,221.13 L629.48,222.07 L629.83,223.00 L630.18,223.93 L630.53,224.87 L630.88,225.80 L631.23,226.74 L631.58,227.67 L631.93,228.61 L632.27,229.54 L632.62,230.48 L632.96,231.42 L633.31,232.35 L633.65,233.29 L633.99,234.23 L634.33,235.17 L634.68,236.11 L635.02,237.04 L635.36,237.98 L635.70,238.92 L636.03,239.86 L636.37,240.80 L636.71,241.74 L637.05,242.69 L637.38,243.63 L637.72,244.57 L638.05,245.51 L638.39,246.45 L638.72,247.40 L639.06,248.34 L639.39,249.28 L639.72,250.22 L640.06,251.17 L640.39,252.11 L640.72,253.06 L641.05,254.00 L641.38,254.94 L641.71,255.89 L642.04,256.83 L642.37,257.78 L642.70,258.72 L643.03,259.67 L643.36,260.61 L643.68,261.56 L644.01,262.51 L644.34,263.45 L644.67,264.40 L644.99,265.34 L645.32,266.29 L645.65,267.24 L645.98,268.18 L646.30,269.13 L646.63,270.08 L646.95,271.02 L647.28,271.97 L647.61,272.92 L647.93,273.86 L648.26,274.81 L648.58,275.76 L648.91,276.70 L649.23,277.65 L649.56,278.60 L649.88,279.55 L650.21,280.49 L650.53,281.44 L650.86,282.39 L651.19,283.33 L651.51,284.28 L651.84,285.23 L652.16,286.17 L652.49,287.12 L652.81,288.07 L653.14,289.01 L653.46,289.96 L653.79,290.91 L654.12,291.85 L654.44,292.80 L654.77,293.75 L655.10,294.69 L655.42,295.64 L655.75,296.59 L656.08,297.53 L656.40,298.48 L656.73,299.42 L657.06,300.37 L657.39,301.31 L657.72,302.26 L658.04,303.21 L658.37,304.15 L658.70,305.10 L659.03,306.04 L659.36,306.99 L659.69,307.93 L660.02,308.88 L660.35,309.82 L660.67,310.76 L661.00,311.71 L661.33,312.65 L661.66,313.60 L661.99,314.54 L662.33,315.49 L662.66,316.43 L662.99,317.37 L663.32,318.32 L663.65,319.26 L663.98,320.21 L664.31,321.15 L664.65,322.09 L664.98,323.04 L665.31,323.98 L665.64,324.92 L665.98,325.86 L666.31,326.81 L666.64,327.75 L666.98,328.69 L667.31,329.64 L667.64,330.58 L667.98,331.52 L668.31,332.46 L668.65,333.40 L668.98,334.35 L669.32,335.29 L669.66,336.23 L669.99,337.17 L670.33,338.11 L670.66,339.05 L671.00,339.99 L671.34,340.94 L671.68,341.88 L672.01,342.82 L672.35,343.76 L672.69,344.70 L673.03,345.64 L673.37,346.58 L673.71,347.52 L674.05,348.46 L674.39,349.40 L674.73,350.34 L675.07,351.28 L675.41,352.22 L675.75,353.16 L676.09,354.10 L676.43,355.03 L676.77,355.97 L677.12,356.91 L677.46,357.85 L677.80,358.79 L678.15,359.73 L678.49,360.67 L678.83,361.60 L679.18,362.54 L679.52,363.48 L679.87,364.42 L680.21,365.35 L680.56,366.29 L680.90,367.23 L681.25,368.17 L681.60,369.10 L681.94,370.04 L682.29,370.98 L682.64,371.91 L682.99,372.85 L683.34,373.78 L683.69,374.72 L684.04,375.66 L684.39,376.59 L684.74,377.53 L685.09,378.46 L685.44,379.40 L685.79,380.33 L686.14,381.27 L686.49,382.20 L686.85,383.14 L687.20,384.07 L687.55,385.00 L687.91,385.94 L688.26,386.87 L688.61,387.81 L688.97,388.74 L689.32,389.67 L689.68,390.61 L690.04,391.54 L690.39,392.47 L690.75,393.40 L691.11,394.34 L691.47,395.27 L691.83,396.20 L692.18,397.13 L692.54,398.06 L692.90,399.00 L693.26,399.93 L693.62,400.86 L693.99,401.79 L694.35,402.72 L694.71,403.65 L695.07,404.58 L695.43,405.51 L695.80,406.44 L696.16,407.37 L696.53,408.30 L696.89,409.23 L697.26,410.16 L697.62,411.09 L697.99,412.02 L698.36,412.95 L698.72,413.88 L699.09,414.80 L699.46,415.73 L699.83,416.66 L700.20,417.59 L700.57,418.52 L700.94,419.44 L701.31,420.37 L701.68,421.30 L702.05,422.22 L702.42,423.15 L702.80,424.08 L703.17,425.00 L703.55,425.93 L703.92,426.86 L704.29,427.78 L704.67,428.71 L705.05,429.63 L705.42,430.56 L705.80,431.48 L706.18,432.41 L706.56,433.33 L706.94,434.26 L707.31,435.18 L707.69,436.10 L708.08,437.03 L708.46,437.95 L708.84,438.87 L709.22,439.80 L709.60,440.72 L709.99,441.64 L710.37,442.56 L710.76,443.49 L711.14,444.41 L711.53,445.33 L711.91,446.25 L712.30,447.17 L712.69,448.09 L713.07,449.01 L713.46,449.93 L713.85,450.85 L714.24,451.77 L714.63,452.69 L715.02,453.61 L715.42,454.53 L715.81,455.45 L716.20,456.37 L716.59,457.29 L716.99,458.21 L717.38,459.13 L717.78,460.05 L718.17,460.96 L718.57,461.88 L718.97,462.80 L719.37,463.72 L719.77,464.63 L720.16,465.55 L720.56,466.46 L720.97,467.38 L721.37,468.30 L721.77,469.21 L722.17,470.13 L722.57,471.04 L722.98,471.96 L723.38,472.87 L723.79,473.79 L724.19,474.70 L724.60,475.62 L725.01,476.53 L725.41,477.44 L725.82,478.36 L726.23,479.27 L726.64,480.18 L727.05,481.09 L727.46,482.01 L727.88,482.92 L728.29,483.83 L728.70,484.74 L729.12,485.65 L729.53,486.56 L729.95,487.47 L730.36,488.39 L730.78,489.30 L731.20,490.21 L731.62,491.12 L732.03,492.02 L732.45,492.93 L732.88,493.84 L733.30,494.75 L733.72,495.66 L734.14,496.57 L734.49,497.31" stroke="#000080" stroke-width="4" stroke-dasharray="22.55 5.485"/>
</g>
<path d="M131.40,503.07h4.40 M746.20,503.07h-4.40 M131.40,478.90h7.60 M746.20,478.90h-7.60 M131.40,454.73h4.40 M746.20,454.73h-4.40 M131.40,430.56h4.40 M746.20,430.56h-4.40 M131.40,406.39h4.40 M746.20,406.39h-4.40 M131.40,382.22h7.60 M746.20,382.22h-7.60 M131.40,358.05h4.40 M746.20,358.05h-4.40 M131.40,333.88h4.40 M746.20,333.88h-4.40 M131.40,309.71h4.40 M746.20,309.71h-4.40 M131.40,285.54h7.60 M746.20,285.54h-7.60 M131.40,261.37h4.40 M746.20,261.37h-4.40 M131.40,237.20h4.40 M746.20,237.20h-4.40 M131.40,213.03h4.40 M746.20,213.03h-4.40 M131.40,188.86h7.60 M746.20,188.86h-7.60 M131.40,164.69h4.40 M746.20,164.69h-4.40 M131.40,140.52h4.40 M746.20,140.52h-4.40 M131.40,116.35h4.40 M746.20,116.35h-4.40 M131.40,92.18h7.60 M746.20,92.18h-7.60 M131.40,68.01h4.40 M746.20,68.01h-4.40" stroke="#000" stroke-width="1.9" fill="none"/>
<path d="M164.80,505.90v-7.60 M164.80,44.20v7.60 M317.66,505.90v-7.60 M317.66,44.20v7.60 M383.50,505.90v-7.60 M383.50,44.20v7.60 M536.36,505.90v-7.60 M536.36,44.20v7.60 M602.20,505.90v-7.60 M602.20,44.20v7.60" stroke="#000" stroke-width="1.9" fill="none"/>
<path d="M230.64,505.90v-2.50 M230.64,44.20v2.50 M269.15,505.90v-2.50 M269.15,44.20v2.50 M296.47,505.90v-2.50 M296.47,44.20v2.50 M334.98,505.90v-2.50 M334.98,44.20v2.50 M349.62,505.90v-2.50 M349.62,44.20v2.50 M362.31,505.90v-2.50 M362.31,44.20v2.50 M373.49,505.90v-2.50 M373.49,44.20v2.50 M449.34,505.90v-2.50 M449.34,44.20v2.50 M487.85,505.90v-2.50 M487.85,44.20v2.50 M515.17,505.90v-2.50 M515.17,44.20v2.50 M553.68,505.90v-2.50 M553.68,44.20v2.50 M568.32,505.90v-2.50 M568.32,44.20v2.50 M581.01,505.90v-2.50 M581.01,44.20v2.50 M592.19,505.90v-2.50 M592.19,44.20v2.50 M668.04,505.90v-2.50 M668.04,44.20v2.50 M706.55,505.90v-2.50 M706.55,44.20v2.50 M733.87,505.90v-2.50 M733.87,44.20v2.50" stroke="#000" stroke-width="0.9" fill="none"/>
<rect x="131.40" y="44.20" width="614.80" height="461.70" fill="none" stroke="#000" stroke-width="2"/>
<text class="tk" transform="translate(126.2,491.25) scale(0.955,1)" font-size="35" text-anchor="end">600</text>
<text class="tk" transform="translate(126.2,394.57) scale(0.955,1)" font-size="35" text-anchor="end">800</text>
<text class="tk" transform="translate(126.2,297.89) scale(0.955,1)" font-size="35" text-anchor="end">1000</text>
<text class="tk" transform="translate(126.2,201.21) scale(0.955,1)" font-size="35" text-anchor="end">1200</text>
<text class="tk" transform="translate(126.2,104.53) scale(0.955,1)" font-size="35" text-anchor="end">1400</text>
<text class="tk" transform="translate(163.50,543.3) scale(0.955,1)" font-size="35" text-anchor="middle">0.1</text>
<text class="tk" transform="translate(317.06,543.3) scale(0.955,1)" font-size="35" text-anchor="middle">0.5</text>
<text class="tk" transform="translate(384.50,543.3) scale(0.955,1)" font-size="35" text-anchor="middle">1.0</text>
<text class="tk" transform="translate(536.56,543.3) scale(0.955,1)" font-size="35" text-anchor="middle">5.0</text>
<text class="tk" transform="translate(603.50,543.3) scale(0.955,1)" font-size="35" text-anchor="middle">10.0</text>
<text transform="translate(401.3,594.6) scale(0.94,1)" font-size="33.8">4</text>
<text transform="translate(417.6,594.6) scale(1.15,1)" font-size="31.6" font-style="italic">π</text>
<text transform="translate(436.5,594.6) scale(1.05,1)" font-size="32.6" font-style="italic">η</text>
<text transform="translate(452.9,601.3) scale(0.9,1)" font-size="44">/</text>
<text transform="translate(464,594.6) scale(0.97,1)" font-size="32">s</text>
<g transform="translate(30.6,304.5) rotate(-90)"><text transform="scale(1.08,1)" font-size="33" font-style="italic">N</text><text x="23.3" y="6.3" font-size="23.7">chg</text></g>
<path d="M170.5,103.9H208.3" stroke="#000" stroke-width="4.1"/>
<path d="M170.5,153.7H208.3" stroke="#e00000" stroke-width="4.1" stroke-dasharray="9.25 5.75"/>
<path d="M170.5,203.1H208.3" stroke="#000080" stroke-width="4.1" stroke-dasharray="22.4 5.8"/>
<text class="lg" x="223.0" y="113.6" font-size="26.4" letter-spacing="-0.3">vHydro</text>
<text class="lg" x="221.5" y="162.9" font-size="26.4" letter-spacing="0">aHydro</text>
<text class="lg" x="221.5" y="211.9" font-size="26.4" letter-spacing="0">aHydroQP</text>
</svg></body></html>
